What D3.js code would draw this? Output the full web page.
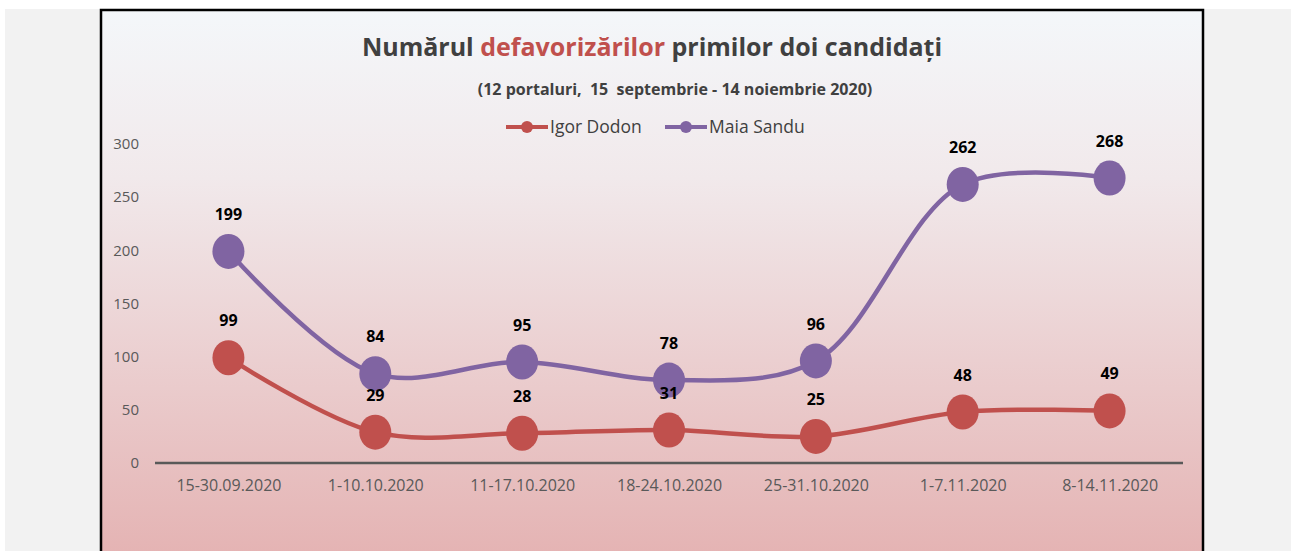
<!DOCTYPE html>
<html lang="ro">
<head>
  <meta charset="UTF-8">
  <title>Numărul defavorizărilor primilor doi candidați</title>
  <script src="https://d3js.org/d3.v7.min.js"></script>
  <style>
    body { margin: 0; background: #fff; overflow: hidden; }
    svg { display: block; font-family: "Open Sans", sans-serif; }
  </style>
</head>
<body>
  <svg width="1291" height="551"></svg>
  <script>
    const categories = ["15-30.09.2020", "1-10.10.2020", "11-17.10.2020", "18-24.10.2020",
                        "25-31.10.2020", "1-7.11.2020", "8-14.11.2020"];
    const dodon = [99, 29, 28, 31, 25, 48, 49];
    const sandu = [199, 84, 95, 78, 96, 262, 268];
    const yTicks = [0, 50, 100, 150, 200, 250, 300];
    const seriesNames = ["Igor Dodon", "Maia Sandu"];
    const seriesColors = ["#c0504d", "#8064a2"];

    const svg = d3.select("svg");
    const W = 1291, H = 551;
    const box = { x: 101, y: 10, w: 1102, h: 560 };

    // page background
    svg.append("rect").attr("x", 5).attr("y", 9).attr("width", W - 5).attr("height", H - 9).attr("fill", "#f2f2f2");

    const defs = svg.append("defs");
    const grad = defs.append("linearGradient").attr("id", "bg").attr("x1", 0).attr("y1", 0).attr("x2", 0).attr("y2", 1);
    grad.append("stop").attr("offset", "0%").attr("stop-color", "#f4f7fa");
    grad.append("stop").attr("offset", "30%").attr("stop-color", "#f1e9eb");
    grad.append("stop").attr("offset", "100%").attr("stop-color", "#e4b1b1");

    svg.append("rect")
      .attr("x", box.x).attr("y", box.y).attr("width", box.w).attr("height", box.h)
      .attr("fill", "url(#bg)").attr("stroke", "#000").attr("stroke-width", 2.5);

    const x = d3.scalePoint().domain(categories).range([155, 1183]).padding(0.5);
    const y = d3.scaleLinear().domain([0, 300]).range([463, 144]);

    // title
    const title = svg.append("text")
      .attr("x", 652).attr("y", 56).attr("text-anchor", "middle")
      .attr("font-size", 25).attr("font-weight", 700).attr("fill", "#404040");
    title.append("tspan").text("Numărul ");
    title.append("tspan").attr("fill", "#c0504d").text("defavorizărilor");
    title.append("tspan").text(" primilor doi candidați");

    svg.append("text")
      .attr("x", 675).attr("y", 95).attr("text-anchor", "middle")
      .attr("font-size", 16).attr("font-weight", 700).attr("fill", "#404040")
      .attr("xml:space", "preserve")
      .text("(12 portaluri,  15  septembrie - 14 noiembrie 2020)");

    // y axis labels
    svg.append("g").selectAll("text").data(yTicks).join("text")
      .attr("x", 139).attr("y", d => y(d)).attr("dy", "0.35em")
      .attr("text-anchor", "end").attr("font-size", 15).attr("fill", "#595959")
      .text(d => d);

    // x axis
    const xAxis = svg.append("g").attr("transform", `translate(0,${y(0)})`)
      .call(d3.axisBottom(x).tickSize(0).tickPadding(17));
    xAxis.select(".domain").attr("d", "M155,0H1183").attr("stroke", "#595959").attr("stroke-width", 2.5);
    xAxis.selectAll("text").attr("font-size", 16).attr("fill", "#595959").attr("font-family", "Open Sans, sans-serif");

    // legend
    const legend = svg.append("g");
    const legX = [506, 665];
    seriesNames.forEach((name, i) => {
      const g = legend.append("g").attr("transform", `translate(${legX[i]},127)`);
      g.append("line").attr("x1", 0).attr("x2", 42).attr("stroke", seriesColors[i]).attr("stroke-width", 4);
      g.append("circle").attr("cx", 21).attr("r", 6).attr("fill", seriesColors[i]);
      g.append("text").attr("x", 44).attr("dy", "0.35em").attr("font-size", 17.5).attr("fill", "#404040").text(name);
    });

    const line = d3.line()
      .x((d, i) => x(categories[i]))
      .y(d => y(d))
      .curve(d3.curveCatmullRom.alpha(0.5));

    [dodon, sandu].forEach((vals, s) => {
      const g = svg.append("g");
      g.append("path").attr("d", line(vals)).attr("fill", "none")
        .attr("stroke", seriesColors[s]).attr("stroke-width", 4.5);
      g.selectAll("ellipse").data(vals).join("ellipse")
        .attr("cx", (d, i) => x(categories[i])).attr("cy", d => y(d))
        .attr("rx", 16).attr("ry", 17.5).attr("fill", seriesColors[s]);
    });

    [dodon, sandu].forEach(vals => {
      svg.append("g").selectAll("text").data(vals).join("text")
        .attr("x", (d, i) => x(categories[i])).attr("y", d => y(d) - 37)
        .attr("dy", "0.35em").attr("text-anchor", "middle")
        .attr("font-size", 16).attr("font-weight", 700).attr("fill", "#000")
        .text(d => d);
    });
  </script>
</body>
</html>
